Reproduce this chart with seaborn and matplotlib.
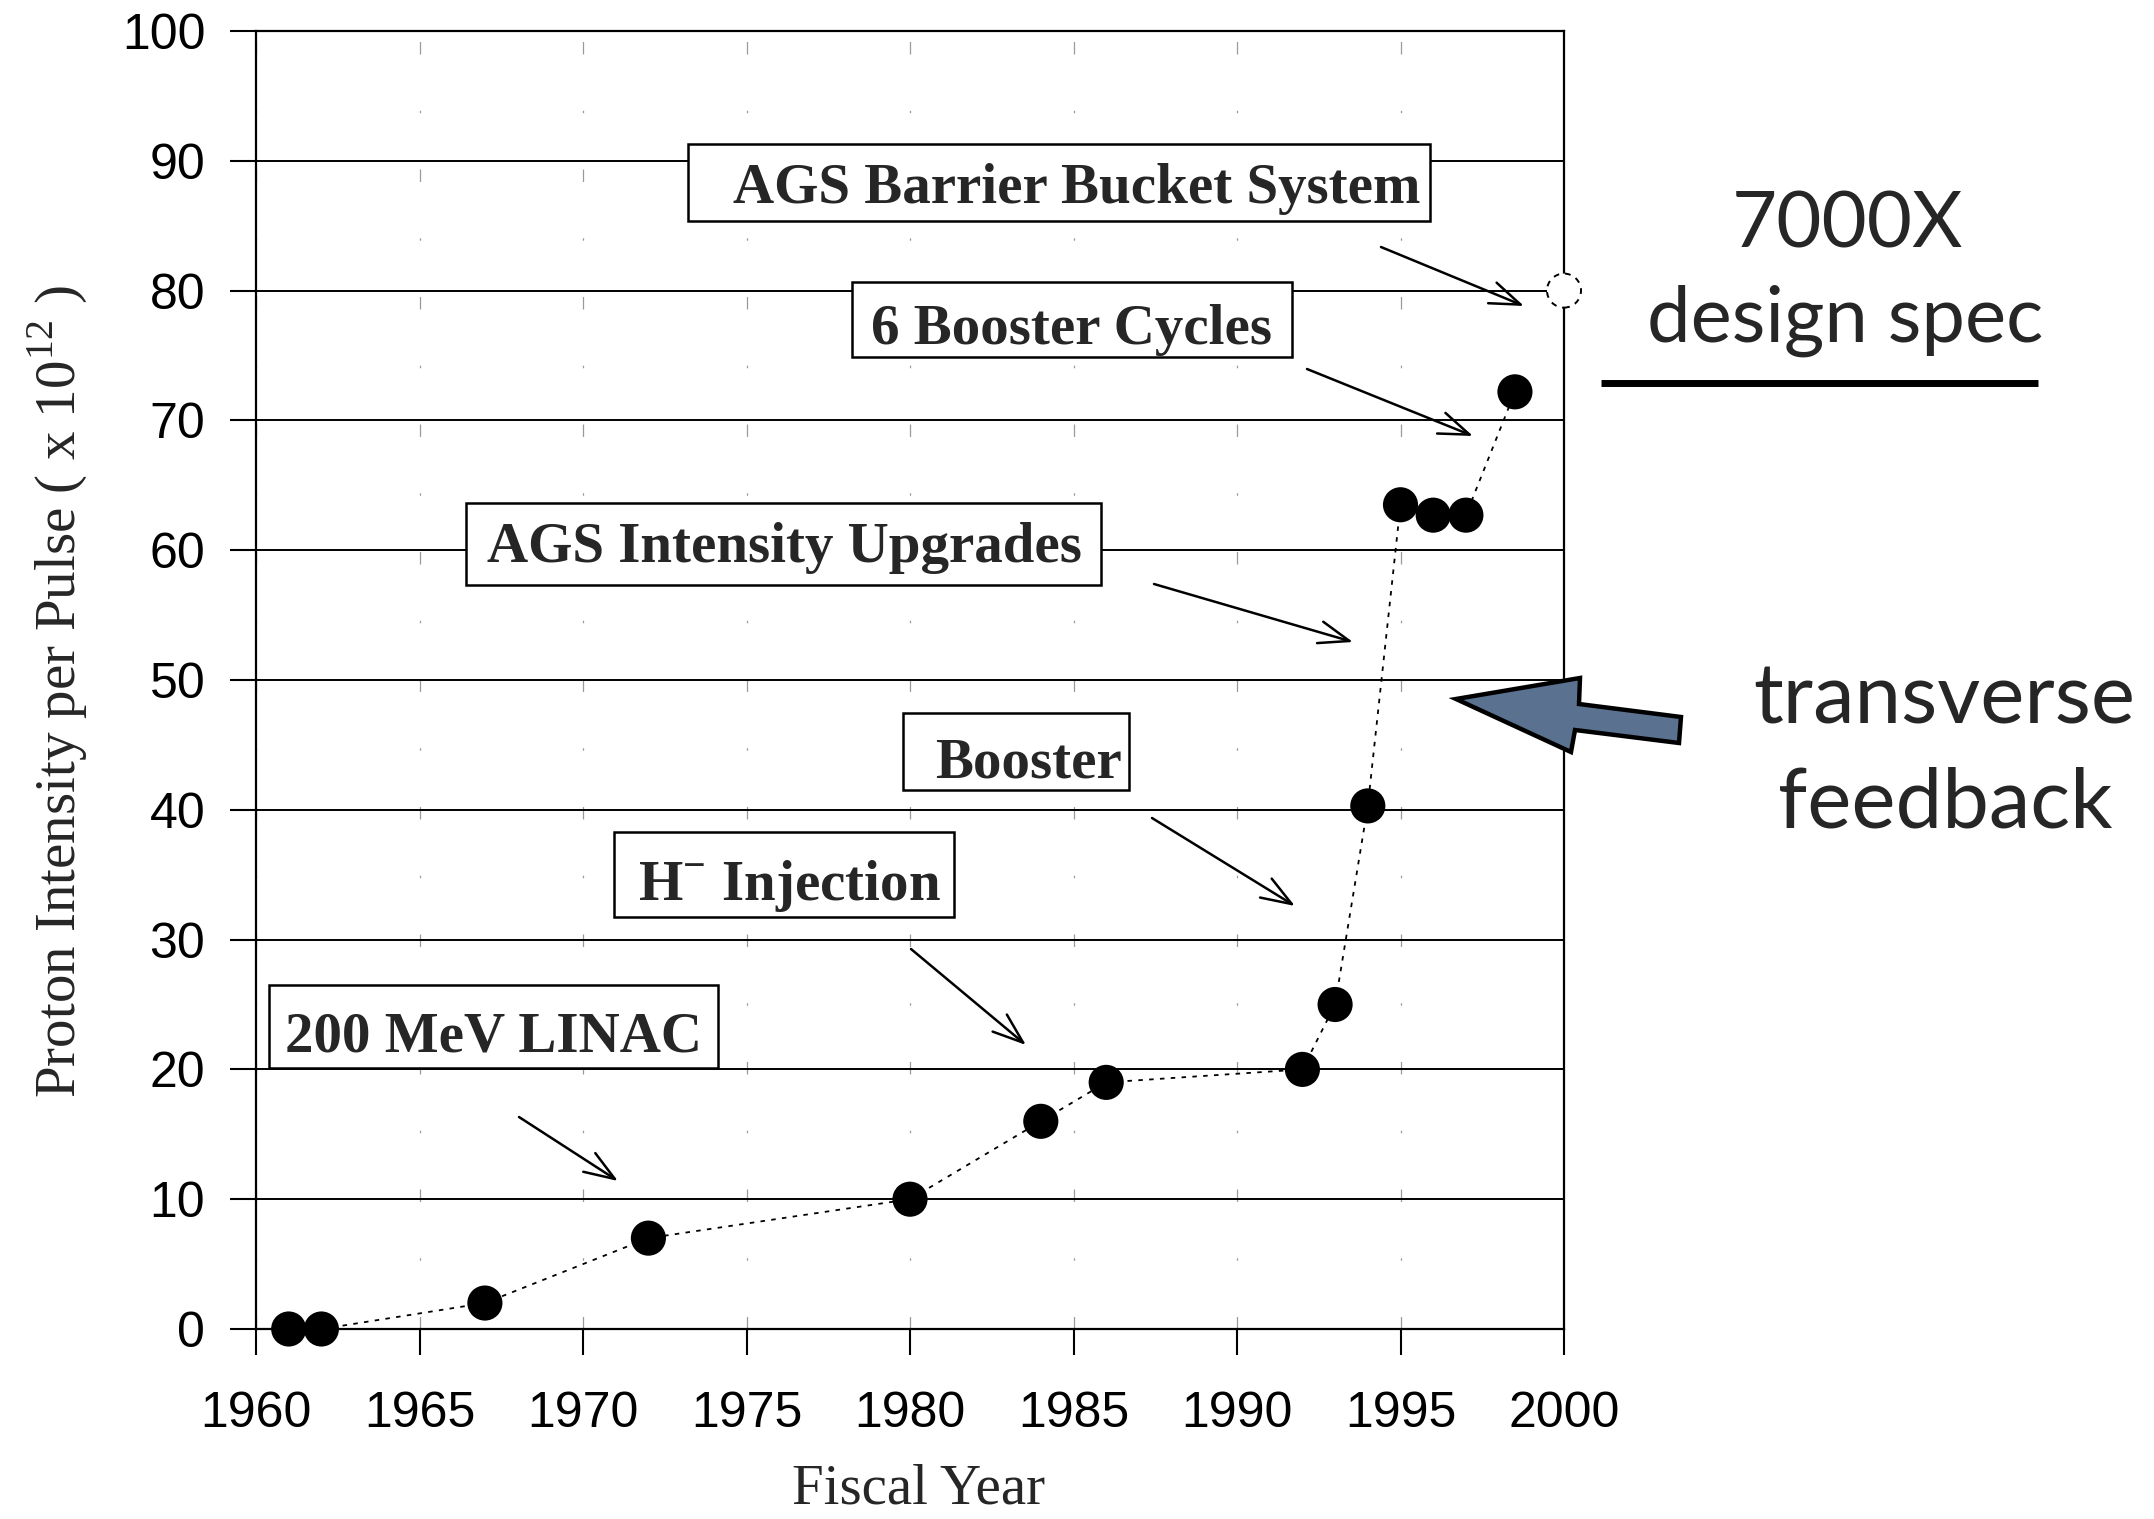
import matplotlib
matplotlib.use("Agg")
import matplotlib.pyplot as plt
import seaborn as sns
from matplotlib.patches import Rectangle, Polygon
from matplotlib.lines import Line2D

# ---- data -------------------------------------------------------------
years = [1961, 1962, 1967, 1972, 1980, 1984, 1986, 1992, 1993, 1994,
         1995, 1996, 1997, 1998.5]
intensity = [0.0, 0.0, 2.0, 7.0, 10.0, 16.0, 19.0, 20.0, 25.0, 40.3,
             63.5, 62.7, 62.7, 72.2]
design_year = [2000]
design_value = [80]

x_ticks = [1960, 1965, 1970, 1975, 1980, 1985, 1990, 1995, 2000]
y_ticks = [0, 10, 20, 30, 40, 50, 60, 70, 80, 90, 100]

milestones = ["AGS Barrier Bucket System", "6 Booster Cycles",
              "AGS Intensity Upgrades", "Booster",
              r"H$^{\mathbf{-}}$ Injection", "200 MeV LINAC"]

# ---- style ------------------------------------------------------------
sns.set_style("white")
plt.rcParams["font.family"] = ["Liberation Sans", "DejaVu Sans"]
plt.rcParams["mathtext.fontset"] = "custom"
plt.rcParams["mathtext.rm"] = "Liberation Serif"
plt.rcParams["mathtext.bf"] = "Liberation Serif:bold"

W, H = 2154, 1519
fig = plt.figure(figsize=(W / 100, H / 100), dpi=100)
fig.patch.set_facecolor("white")


def F(x, y):
    """figure-pixel position (origin top-left) -> figure fraction"""
    return (x / W, 1 - y / H)


ax_l, ax_r, ax_t, ax_b = 256, 1564, 31, 1329
ax = fig.add_axes([ax_l / W, 1 - ax_b / H, (ax_r - ax_l) / W, (ax_b - ax_t) / H])
ax.set_facecolor("white")

# ---- data marks -------------------------------------------------------
sns.lineplot(x=years, y=intensity, ax=ax, color="black", linewidth=1.3,
             linestyle=(0, (2.5, 3.5)), zorder=4)
sns.scatterplot(x=years, y=intensity, ax=ax, s=640, color="black",
                edgecolor="none", zorder=5, clip_on=False, legend=False)
ax.scatter(design_year, design_value, s=600, facecolor="white",
           edgecolor="black", linewidth=1.4, linestyle=(0, (3, 3)),
           zorder=6, clip_on=False)

# ---- axes -------------------------------------------------------------
ax.set_xlim(1960, 2000)
ax.set_ylim(0, 100)
ax.set_xticks(x_ticks)
ax.set_yticks(y_ticks)
ax.set_xticklabels([str(v) for v in x_ticks])
ax.set_yticklabels([str(v) for v in y_ticks])
for s in ax.spines.values():
    s.set_visible(True)
    s.set_color("black")
    s.set_linewidth(1.6)
ax.tick_params(axis="both", which="major", direction="out", length=18.5,
               width=1.5, colors="black", labelsize=36, bottom=True, left=True)
ax.tick_params(axis="x", pad=26)
ax.tick_params(axis="y", pad=18)

ax.yaxis.grid(True, color="black", linewidth=1.4, zorder=1)
ax.xaxis.grid(True, color="#9a9a9a", linewidth=0.9,
              linestyle=(0, (10, 45, 2, 45)), zorder=1)
ax.set_axisbelow(True)

ax.set_xlabel("Fiscal Year", family="Liberation Serif", fontsize=41,
              va="baseline")
ax.xaxis.set_label_coords((919 - ax_l) / (ax_r - ax_l),
                          (ax_b - 1503) / (ax_b - ax_t))
ax.set_ylabel(r"Proton Intensity per Pulse ( x 10$^{12}$ )",
              family="Liberation Serif", fontsize=41, va="center",
              ha="center", rotation=90)
ax.yaxis.set_label_coords((57 - ax_l) / (ax_r - ax_l),
                          (ax_b - 692) / (ax_b - ax_t))

# ---- milestone boxes with arrows ---------------------------------------
# (box left, box top, box right, box bottom, text x, text baseline,
#  arrow tail x, tail y, arrow tip x, tip y) in figure pixels
box_layout = [
    (688, 144, 1430, 221, 733, 203, 1381, 247, 1524, 306),
    (852, 282, 1292, 357, 871, 344, 1307, 369, 1473, 436),
    (466, 503, 1101, 585, 487, 562, 1154, 584, 1353, 642),
    (903, 713, 1129, 790, 935, 778, 1152, 818, 1295, 906),
    (614, 832, 954, 917, 638, 900, 911, 949, 1026, 1045),
    (269, 985, 718, 1068, 285, 1052, 519, 1117, 618, 1181),
]
for label, (bl, bt, br, bb, tx, ty, ax0, ay0, ax1, ay1) in zip(milestones, box_layout):
    x0, y0 = F(bl, bb)
    x1, y1 = F(br, bt)
    ax.add_patch(Rectangle((x0, y0), x1 - x0, y1 - y0, transform=fig.transFigure,
                           facecolor="white", edgecolor="black", linewidth=1.8,
                           zorder=3, clip_on=False))
    ax.text(*F(tx, ty), label, transform=fig.transFigure, ha="left",
            va="baseline", family="Liberation Serif", fontweight="bold",
            fontsize=41, zorder=4, clip_on=False)
    ax.annotate("", xy=F(ax1, ay1), xytext=F(ax0, ay0),
                xycoords="figure fraction", textcoords="figure fraction",
                arrowprops=dict(arrowstyle="->,head_length=1.1,head_width=0.4",
                                color="black", linewidth=1.8,
                                mutation_scale=20, shrinkA=0, shrinkB=0),
                zorder=4)

# ---- right-hand annotations -------------------------------------------
side_font = ["Lato", "DejaVu Sans"]
fig.text(*F(1847, 247), "7000X", ha="center", va="baseline",
         family=side_font, fontsize=56)
fig.text(*F(1845, 342), "design spec", ha="center", va="baseline",
         family=side_font, fontsize=56)
fig.add_artist(Line2D([1601 / W, 2038 / W], [1 - 383 / H, 1 - 383 / H],
                      color="black", linewidth=5, solid_capstyle="butt",
                      transform=fig.transFigure))
fig.text(*F(1944, 723), "transverse", ha="center", va="baseline",
         family=side_font, fontsize=60)
fig.text(*F(1945, 827), "feedback", ha="center", va="baseline",
         family=side_font, fontsize=60)

arrow_px = [(1456, 699), (1580, 678), (1579, 704), (1681, 717),
            (1679, 743), (1575, 730), (1571, 752)]
fig.add_artist(Polygon([F(x, y) for x, y in arrow_px], closed=True,
                       transform=fig.transFigure, facecolor="#5b7190",
                       edgecolor="black", linewidth=3.2, joinstyle="miter",
                       zorder=10))

fig.savefig("out.png", dpi=100, facecolor="white")
